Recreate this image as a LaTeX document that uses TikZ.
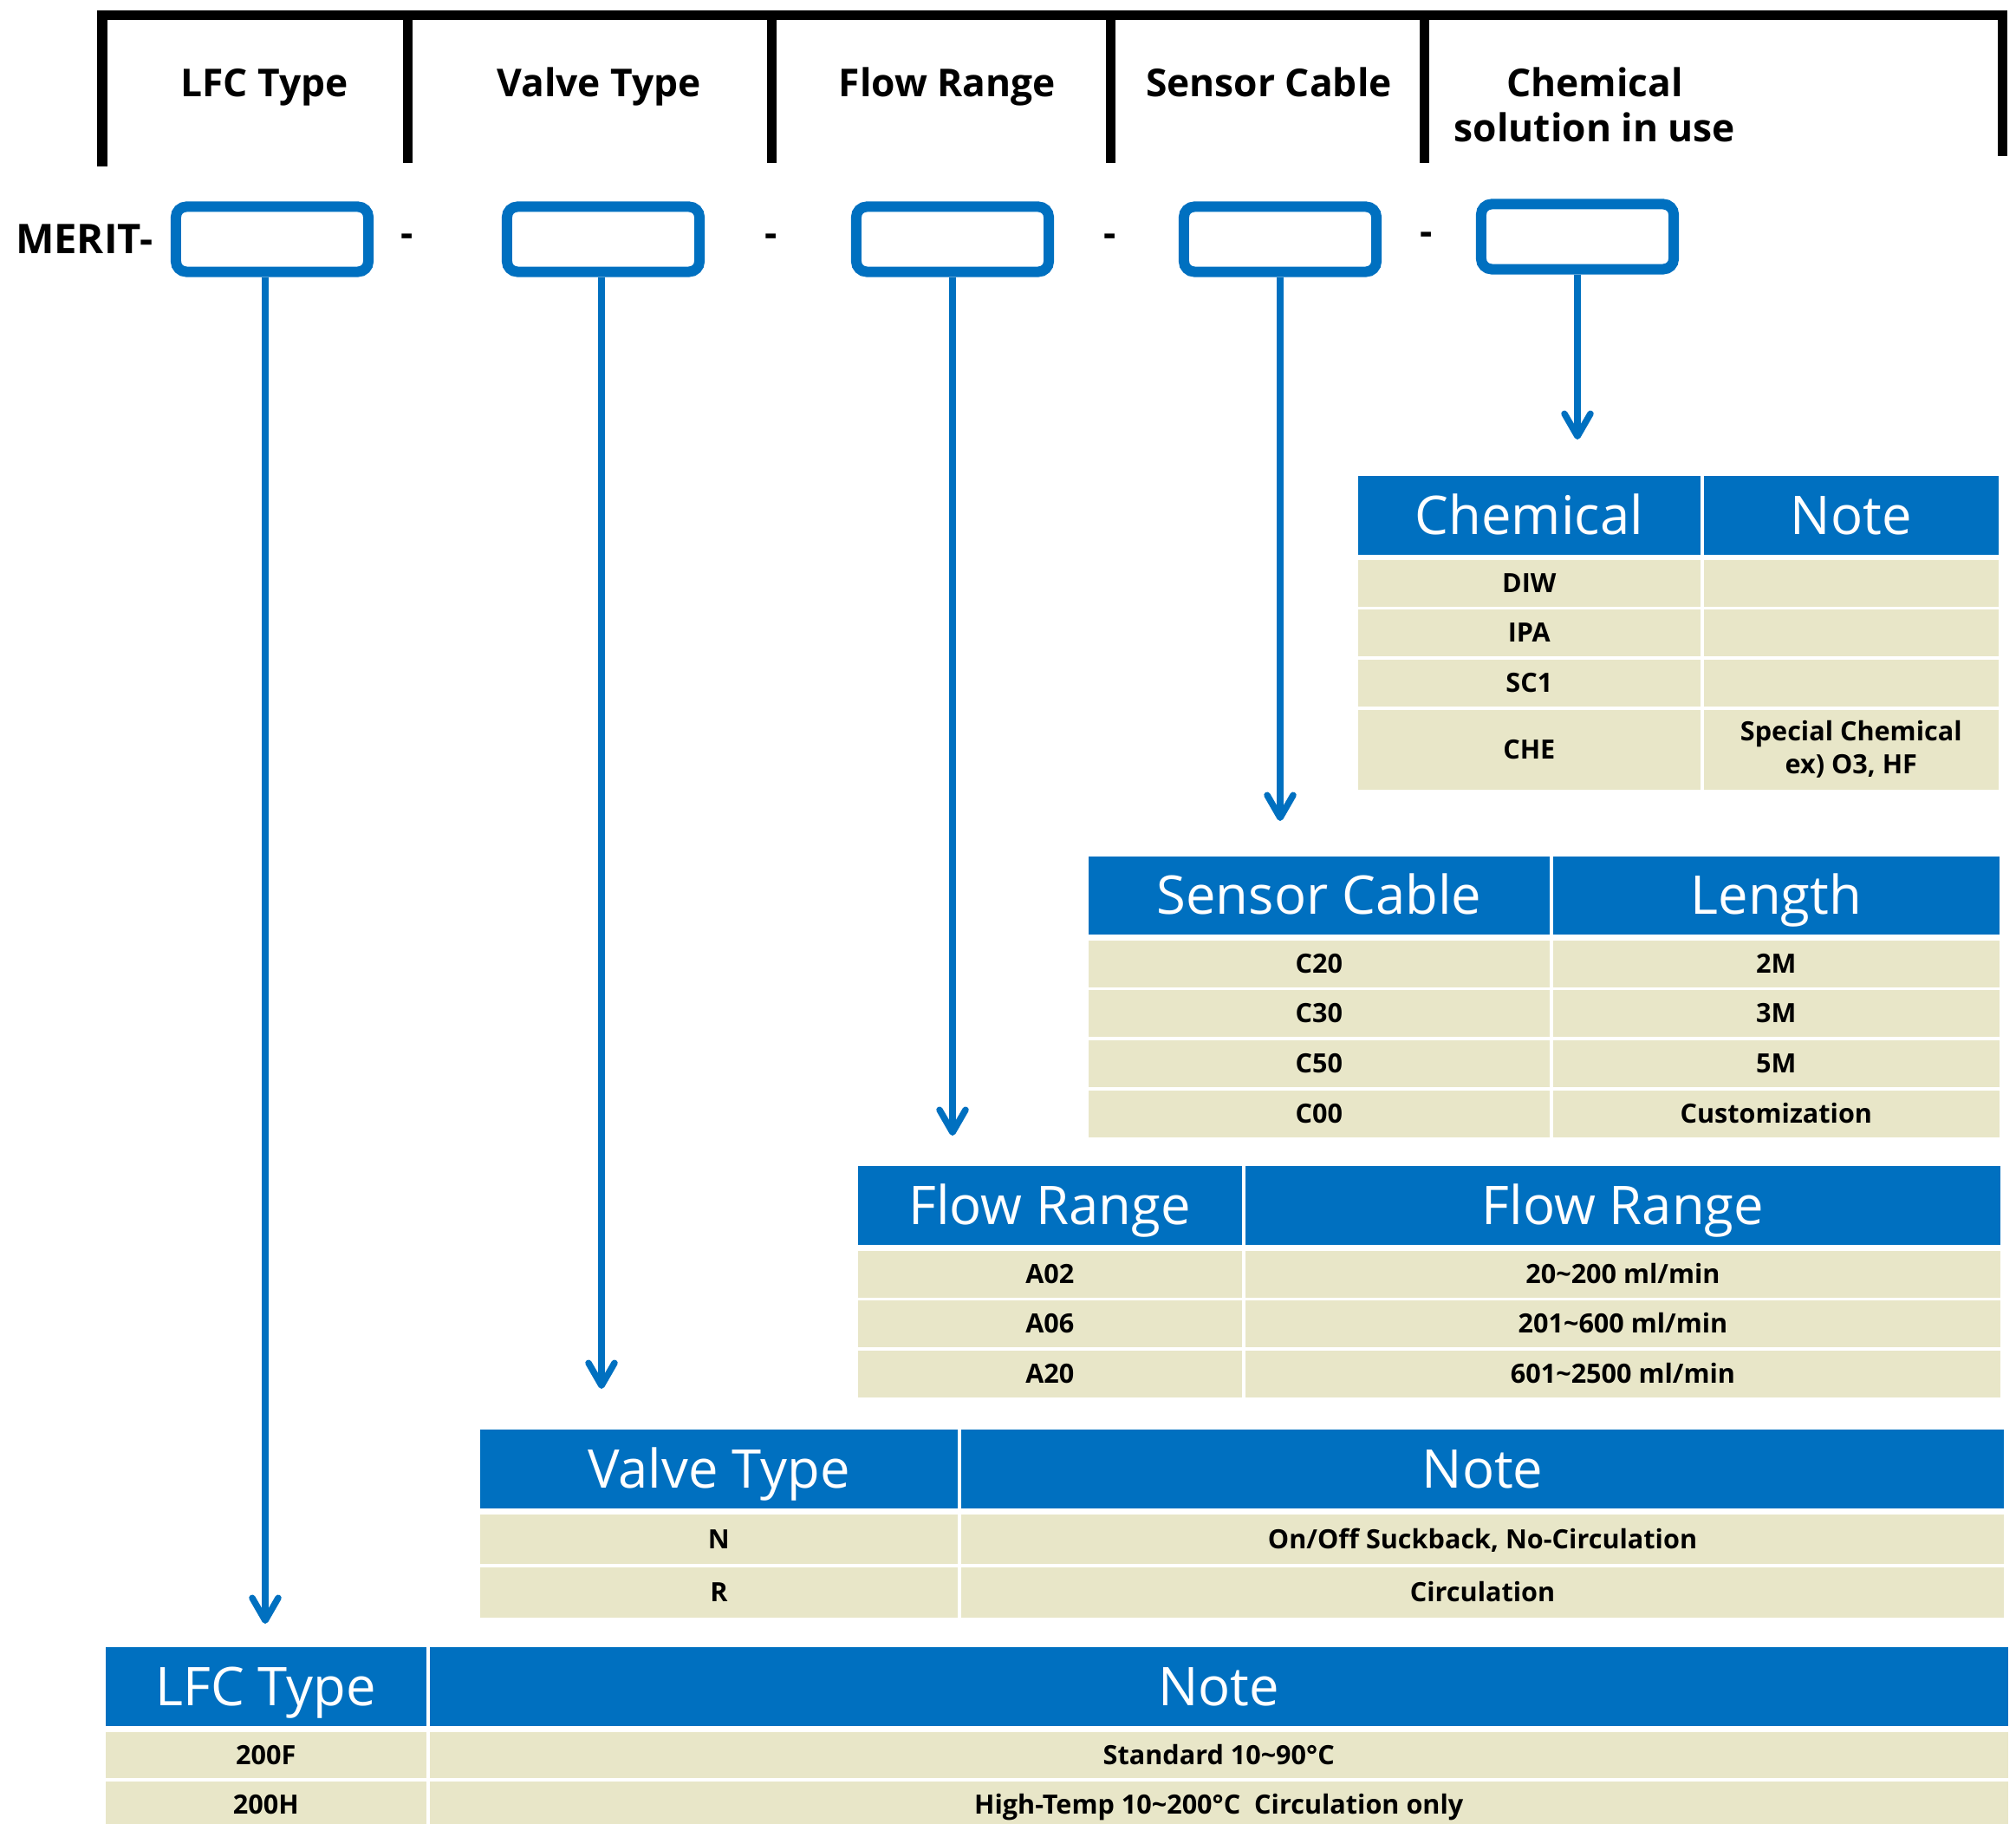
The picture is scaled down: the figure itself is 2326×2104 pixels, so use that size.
\documentclass[tikz,border=0pt]{standalone}
\usepackage{fontspec}
\setmainfont{Open Sans}
\usetikzlibrary{arrows.meta, positioning}
\definecolor{lfcblue}{HTML}{0070C0}
\definecolor{cellbg}{HTML}{E8E6C8}

\begin{document}
\begin{tikzpicture}[x=0.01cm, y=-0.01cm,
  brk/.style={line width=0.11cm},
  lbl/.style={font=\bfseries\fontsize{12.6}{14.8}\selectfont, inner sep=0pt},
  slot/.style={draw=lfcblue, line width=0.12cm, rounded corners=0.12cm, minimum width=2.22cm, minimum height=0.75cm},
  arr/.style={draw=lfcblue, line width=0.075cm, -{Straight Barb[length=0.26cm, width=0.3cm, round]}},
  hd/.style={fill=lfcblue, text=white, font=\fontsize{17.5}{20}\selectfont, anchor=north west, inner sep=0pt, text height=12.5pt, text depth=0pt},
  cell/.style={fill=cellbg, font=\bfseries\fontsize{8.7}{10.8}\selectfont, anchor=north west, inner sep=0pt, text height=6.2pt, text depth=0pt},
  cellm/.style={fill=cellbg, font=\bfseries\fontsize{8.7}{10.8}\selectfont, anchor=north west, inner sep=0pt, align=center}]
\useasboundingbox (0,0) rectangle (2326,2104);

% code fields
\draw[brk] (118,192) -- (118,18) -- (2310,18) -- (2310,180);
\foreach \x in {470, 890, 1281, 1643}
  \draw[brk] (\x,18) -- (\x,188);

\node[lbl, anchor=base] (nLFC) at (305,112) {LFC Type};
\node[lbl, anchor=base] (nVT) at (691,112) {Valve Type};
\node[lbl, anchor=base] (nFR) at (1093,112) {Flow Range};
\node[lbl, anchor=base] (nSC) at (1464,112) {Sensor Cable};
\node[lbl, align=center] (nCH) at (1840,121) {Chemical\\solution in use};

\node[slot] (bLFC) at (314,276) {};
\node[slot] (bVT) at (696,276) {};
\node[slot] (bFR) at (1099,276) {};
\node[slot] (bSC) at (1477,276) {};
\node[slot] (bCH) at (1820,273) {};
\node[lbl, font=\bfseries\fontsize{13.4}{15}\selectfont] (merit) [left=0.2cm of bLFC] {MERIT-};
\foreach \x/\y [count=\i] in {470/285, 890/285, 1281/285, 1646/283}
  \node[lbl, anchor=base] (dash\i) at (\x,\y) {-};

\coordinate (tLFC) at (306,1873);
\coordinate (tVT) at (694,1602);
\coordinate (tFR) at (1099,1310);
\coordinate (tSC) at (1477,947);
\coordinate (tCH) at (1820,507);
\draw[arr] (bLFC.south -| tLFC) -- (tLFC);
\draw[arr] (bVT.south -| tVT) -- (tVT);
\draw[arr] (bFR) -- (tFR);
\draw[arr] (bSC) -- (tSC);
\draw[arr] (bCH) -- (tCH);

% chemical
\node[hd, minimum width=3.95cm, minimum height=0.91cm] (chH1) at (1566,548) {Chemical};
\node[hd, minimum width=3.40cm, minimum height=0.91cm] (chH2) at (1965,548) {Note};
\foreach \y/\t [count=\i] in {645/DIW, 702/IPA, 760/SC1} {
  \node[cell, minimum width=3.95cm, minimum height=0.54cm] (chA\i) at (1566,\y) {\t};
  \node[cell, minimum width=3.40cm, minimum height=0.54cm] (chB\i) at (1965,\y) {};
}
\node[cell, minimum width=3.95cm, minimum height=0.92cm] (chA4) at (1566,818) {CHE};
\node[cellm, minimum width=3.40cm, minimum height=0.92cm] (chB4) at (1965,818) {Special Chemical\\ex) O3, HF};

% sensor cable
\node[hd, minimum width=5.32cm, minimum height=0.90cm] (scH1) at (1255,987) {Sensor Cable};
\node[hd, minimum width=5.15cm, minimum height=0.90cm] (scH2) at (1791,987) {Length};
\foreach \y/\t/\u [count=\i] in {1084/C20/2M, 1141/C30/3M, 1199/C50/5M, 1257/C00/Customization} {
  \node[cell, minimum width=5.32cm, minimum height=0.54cm] (scA\i) at (1255,\y) {\t};
  \node[cell, minimum width=5.15cm, minimum height=0.54cm] (scB\i) at (1791,\y) {\u};
}

% flow range
\node[hd, minimum width=4.43cm, minimum height=0.91cm] (frH1) at (989,1344) {Flow Range};
\node[hd, minimum width=8.71cm, minimum height=0.91cm] (frH2) at (1436,1344) {Flow Range};
\foreach \y/\t/\u [count=\i] in {1442/A02/{20\textasciitilde200 ml/min}, 1499/A06/{201\textasciitilde600 ml/min}, 1557/A20/{601\textasciitilde2500 ml/min}} {
  \node[cell, minimum width=4.43cm, minimum height=0.54cm] (frA\i) at (989,\y) {\t};
  \node[cell, minimum width=8.71cm, minimum height=0.54cm] (frB\i) at (1436,\y) {\u};
}

% valve type
\node[hd, minimum width=5.51cm, minimum height=0.91cm] (vtH1) at (553,1648) {Valve Type};
\node[hd, minimum width=12.03cm, minimum height=0.91cm] (vtH2) at (1108,1648) {Note};
\node[cell, minimum width=5.51cm, minimum height=0.57cm] (vtA1) at (553,1746) {N};
\node[cell, minimum width=12.03cm, minimum height=0.57cm] (vtB1) at (1108,1746) {On/Off Suckback, No-Circulation};
\node[cell, minimum width=5.51cm, minimum height=0.58cm] (vtA2) at (553,1807) {R};
\node[cell, minimum width=12.03cm, minimum height=0.58cm] (vtB2) at (1108,1807) {Circulation};

% lfc type
\node[hd, minimum width=3.70cm, minimum height=0.91cm] (ltH1) at (121,1899) {LFC Type};
\node[hd, minimum width=18.20cm, minimum height=0.91cm] (ltH2) at (495,1899) {Note};
\node[cell, minimum width=3.70cm, minimum height=0.53cm] (ltA1) at (121,1997) {200F};
\node[cell, minimum width=18.20cm, minimum height=0.53cm] (ltB1) at (495,1997) {Standard 10\textasciitilde90°C};
\node[cell, minimum width=3.70cm, minimum height=0.54cm] (ltA2) at (121,2054) {200H};
\node[cell, minimum width=18.20cm, minimum height=0.54cm] (ltB2) at (495,2054) {High-Temp 10\textasciitilde200°C\ \ Circulation only};
\end{tikzpicture}
\end{document}
